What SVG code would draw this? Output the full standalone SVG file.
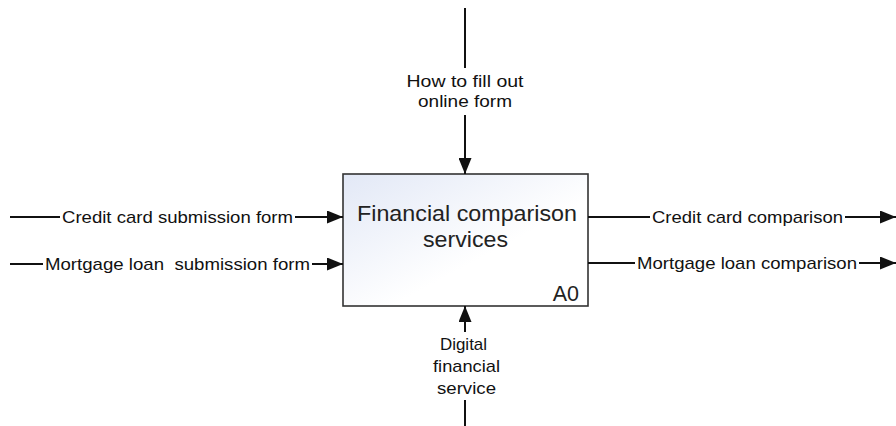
<svg xmlns="http://www.w3.org/2000/svg" width="896" height="426" viewBox="0 0 896 426">
<style>
.lbl{font-family:"Liberation Sans",Arial,sans-serif;font-size:17px;fill:#111}
.ln{stroke:#111;stroke-width:2;fill:none}
.box{stroke:#333;stroke-width:1.6;fill:url(#g)}
.title{font-family:"Liberation Sans",Arial,sans-serif;font-size:21.5px;fill:#222}
</style>
<defs>
<linearGradient id="g" x1="0" y1="0" x2="1" y2="1">
<stop offset="0" stop-color="#e2e8f6"/>
<stop offset="0.6" stop-color="#ffffff"/>
<stop offset="1" stop-color="#ffffff"/>
</linearGradient>
<marker id="ah" markerUnits="userSpaceOnUse" markerWidth="17" markerHeight="13" refX="16" refY="6.5" orient="auto" viewBox="0 0 17 13">
<path d="M0,0 L16,6.5 L0,13 z" fill="#111"/>
</marker>
</defs>
<g id="A0">
<rect class="box" x="343" y="174" width="245" height="132"/>
<text class="title" x="467" y="221" text-anchor="middle" textLength="220" lengthAdjust="spacingAndGlyphs">Financial comparison</text>
<text class="title" x="465.5" y="247" text-anchor="middle" textLength="85" lengthAdjust="spacingAndGlyphs">services</text>
<text class="title" x="579" y="301" text-anchor="end">A0</text>
</g>
<g id="connectors">
<line class="ln" x1="465" y1="8" x2="465" y2="68"/>
<line class="ln" x1="465" y1="115" x2="465" y2="174" marker-end="url(#ah)"/>
<line class="ln" x1="465" y1="332" x2="465" y2="306" marker-end="url(#ah)"/>
<line class="ln" x1="465" y1="400" x2="465" y2="426"/>
<line class="ln" x1="10" y1="217" x2="60" y2="217"/>
<line class="ln" x1="295" y1="217" x2="343" y2="217" marker-end="url(#ah)"/>
<line class="ln" x1="10" y1="264" x2="43" y2="264"/>
<line class="ln" x1="312" y1="264" x2="343" y2="264" marker-end="url(#ah)"/>
<line class="ln" x1="588" y1="217" x2="650" y2="217"/>
<line class="ln" x1="845" y1="217" x2="896" y2="217" marker-end="url(#ah)"/>
<line class="ln" x1="588" y1="263" x2="635" y2="263"/>
<line class="ln" x1="859" y1="263" x2="896" y2="263" marker-end="url(#ah)"/>
</g>
<g id="labels">
<text class="lbl" x="465" y="87" text-anchor="middle" textLength="117" lengthAdjust="spacingAndGlyphs">How to fill out</text>
<text class="lbl" x="465" y="107" text-anchor="middle" textLength="94" lengthAdjust="spacingAndGlyphs">online form</text>
<text class="lbl" x="463.5" y="350" text-anchor="middle" textLength="47" lengthAdjust="spacingAndGlyphs">Digital</text>
<text class="lbl" x="466.5" y="372" text-anchor="middle" textLength="67" lengthAdjust="spacingAndGlyphs">financial</text>
<text class="lbl" x="466.5" y="394" text-anchor="middle" textLength="59" lengthAdjust="spacingAndGlyphs">service</text>
<text class="lbl" x="62" y="223" textLength="231" lengthAdjust="spacingAndGlyphs">Credit card submission form</text>
<text class="lbl" x="45" y="270" textLength="265" lengthAdjust="spacingAndGlyphs" xml:space="preserve">Mortgage loan  submission form</text>
<text class="lbl" x="652" y="223" textLength="191" lengthAdjust="spacingAndGlyphs">Credit card comparison</text>
<text class="lbl" x="637" y="269" textLength="220" lengthAdjust="spacingAndGlyphs">Mortgage loan comparison</text>
</g>
</svg>
